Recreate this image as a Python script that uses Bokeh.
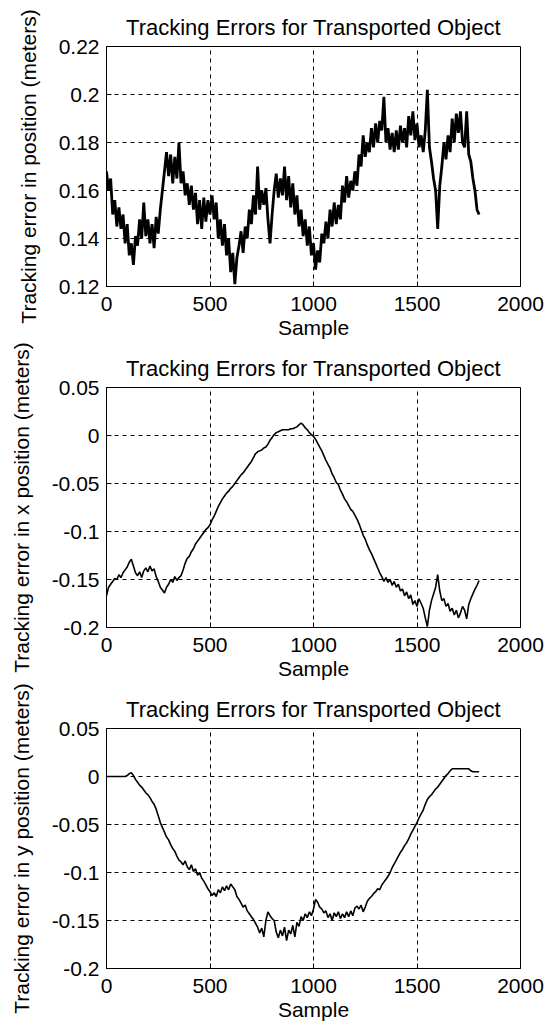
from bokeh.plotting import figure
from bokeh.layouts import column
from bokeh.models import Range1d, FixedTicker
from bokeh.embed import file_html
from bokeh.resources import INLINE

step = 10

err_pos = [
    0.168, 0.160, 0.165, 0.150, 0.156, 0.145, 0.153, 0.144, 0.150, 0.138,
    0.146, 0.133, 0.138, 0.129, 0.141, 0.137, 0.148, 0.140, 0.155, 0.141,
    0.148, 0.138, 0.146, 0.136, 0.149, 0.142, 0.152, 0.160, 0.168, 0.176,
    0.166, 0.175, 0.163, 0.174, 0.165, 0.180, 0.163, 0.168, 0.158, 0.163,
    0.154, 0.162, 0.152, 0.159, 0.146, 0.156, 0.144, 0.157, 0.147, 0.156,
    0.150, 0.158, 0.148, 0.155, 0.140, 0.148, 0.137, 0.146, 0.133, 0.140,
    0.126, 0.134, 0.121, 0.132, 0.137, 0.143, 0.134, 0.145, 0.140, 0.152,
    0.146, 0.158, 0.150, 0.170, 0.152, 0.160, 0.154, 0.161, 0.148, 0.138,
    0.150, 0.160, 0.167, 0.157, 0.165, 0.158, 0.170, 0.156, 0.166, 0.153,
    0.163, 0.150, 0.158, 0.145, 0.152, 0.141, 0.148, 0.137, 0.145, 0.133,
    0.138, 0.127, 0.135, 0.130, 0.142, 0.138, 0.147, 0.140, 0.152, 0.145,
    0.155, 0.146, 0.154, 0.148, 0.162, 0.155, 0.166, 0.157, 0.164, 0.160,
    0.168, 0.162, 0.175, 0.170, 0.183, 0.174, 0.180, 0.176, 0.186, 0.178,
    0.188, 0.180, 0.189, 0.185, 0.199, 0.180, 0.186, 0.177, 0.184, 0.176,
    0.185, 0.177, 0.187, 0.180, 0.186, 0.178, 0.191, 0.183, 0.193, 0.181,
    0.188, 0.178, 0.183, 0.176, 0.185, 0.202, 0.178, 0.172, 0.165, 0.160,
    0.144, 0.162, 0.170, 0.180, 0.173, 0.183, 0.176, 0.190, 0.180, 0.192,
    0.184, 0.193, 0.180, 0.178, 0.193, 0.175, 0.172, 0.165, 0.160, 0.152,
    0.150,
]

err_x = [
    -0.167, -0.158, -0.155, -0.152, -0.149, -0.150, -0.145, -0.148, -0.143, -0.140,
    -0.137, -0.132, -0.129, -0.136, -0.143, -0.146, -0.142, -0.148, -0.141, -0.138,
    -0.142, -0.136, -0.141, -0.139, -0.147, -0.152, -0.158, -0.161, -0.164, -0.158,
    -0.155, -0.150, -0.153, -0.147, -0.151, -0.148, -0.146, -0.140, -0.133, -0.128,
    -0.126, -0.121, -0.118, -0.113, -0.110, -0.107, -0.104, -0.101, -0.098, -0.096,
    -0.093, -0.088, -0.084, -0.079, -0.074, -0.070, -0.066, -0.063, -0.060, -0.058,
    -0.055, -0.053, -0.050, -0.047, -0.044, -0.041, -0.039, -0.036, -0.033, -0.030,
    -0.027, -0.023, -0.019, -0.017, -0.016, -0.015, -0.013, -0.012, -0.009, -0.005,
    -0.002, 0.001, 0.003, 0.004, 0.005, 0.006, 0.006, 0.006, 0.006, 0.007,
    0.007, 0.008, 0.009, 0.011, 0.013, 0.011, 0.008, 0.006, 0.003, 0.001,
    -0.001, -0.004, -0.008, -0.012, -0.016, -0.021, -0.026, -0.030, -0.034, -0.040,
    -0.044, -0.049, -0.051, -0.057, -0.061, -0.066, -0.069, -0.073, -0.077, -0.079,
    -0.083, -0.087, -0.092, -0.098, -0.104, -0.108, -0.114, -0.119, -0.123, -0.128,
    -0.133, -0.138, -0.143, -0.147, -0.152, -0.148, -0.153, -0.150, -0.156, -0.152,
    -0.158, -0.155, -0.162, -0.160, -0.167, -0.163, -0.170, -0.166, -0.176, -0.172,
    -0.178, -0.170, -0.175, -0.180, -0.190, -0.199, -0.182, -0.172, -0.165, -0.158,
    -0.145, -0.162, -0.172, -0.170, -0.178, -0.175, -0.183, -0.180, -0.187, -0.182,
    -0.190, -0.185, -0.178, -0.182, -0.191, -0.176, -0.170, -0.165, -0.160, -0.156,
    -0.151,
]

err_y = [
    0.000, 0.000, 0.000, 0.000, 0.000, 0.000, 0.000, 0.000, 0.000, 0.000,
    0.001, 0.003, 0.004, 0.001, -0.003, -0.006, -0.009, -0.011, -0.014, -0.017,
    -0.019, -0.022, -0.026, -0.029, -0.034, -0.041, -0.048, -0.053, -0.058, -0.063,
    -0.066, -0.071, -0.075, -0.078, -0.083, -0.087, -0.089, -0.092, -0.088, -0.094,
    -0.097, -0.092, -0.099, -0.096, -0.103, -0.100, -0.106, -0.109, -0.113, -0.117,
    -0.120, -0.124, -0.121, -0.125, -0.118, -0.121, -0.115, -0.119, -0.114, -0.118,
    -0.112, -0.115, -0.118, -0.125, -0.128, -0.132, -0.136, -0.134, -0.140, -0.143,
    -0.146, -0.149, -0.153, -0.157, -0.163, -0.158, -0.167, -0.150, -0.141, -0.145,
    -0.148, -0.150, -0.162, -0.168, -0.160, -0.166, -0.157, -0.171, -0.160, -0.164,
    -0.155, -0.167, -0.152, -0.156, -0.146, -0.150, -0.143, -0.147, -0.141, -0.145,
    -0.138, -0.128, -0.131, -0.136, -0.138, -0.142, -0.140, -0.147, -0.143, -0.150,
    -0.142, -0.146, -0.141, -0.148, -0.143, -0.147, -0.141, -0.146, -0.140, -0.145,
    -0.137, -0.135, -0.138, -0.134, -0.141, -0.136, -0.130, -0.127, -0.125, -0.122,
    -0.120, -0.117, -0.118, -0.113, -0.110, -0.107, -0.104, -0.100, -0.095, -0.091,
    -0.087, -0.083, -0.079, -0.076, -0.072, -0.069, -0.065, -0.060, -0.056, -0.052,
    -0.048, -0.043, -0.039, -0.035, -0.029, -0.024, -0.021, -0.019, -0.016, -0.013,
    -0.011, -0.008, -0.005, -0.002, 0.001, 0.003, 0.006, 0.008, 0.008, 0.008,
    0.008, 0.008, 0.008, 0.008, 0.008, 0.008, 0.006, 0.005, 0.005, 0.005,
    0.005,
]

x_ticks = [0, 500, 1000, 1500, 2000]
x_tick_labels = ["0", "500", "1000", "1500", "2000"]
pos_ticks = [0.12, 0.14, 0.16, 0.18, 0.20, 0.22]
pos_tick_labels = ["0.12", "0.14", "0.16", "0.18", "0.2", "0.22"]
xy_ticks = [-0.2, -0.15, -0.1, -0.05, 0.0, 0.05]
xy_tick_labels = ["-0.2", "-0.15", "-0.1", "-0.05", "0", "0.05"]

title_text = "Tracking Errors for Transported Object"
x_label = "Sample"
y_labels = [
    "Tracking error in position (meters)",
    "Tracking error in x position (meters)",
    "Tracking error in y position (meters)",
]

FONT = "Liberation Sans"
FS = "21px"


def make_plot(values, ylab, yrange, yticks, ylabels, lw):
    p = figure(width=549, height=341, output_backend="svg", toolbar_location=None,
               x_range=Range1d(0, 2000), y_range=Range1d(*yrange),
               min_border_left=106, min_border_right=29,
               min_border_top=46, min_border_bottom=54,
               background_fill_color="white", border_fill_color="white")
    xs = [i * step for i in range(len(values))]
    p.line(xs, values, line_color="black", line_width=lw)

    p.title.text = title_text
    p.title.align = "center"
    p.title.text_font = FONT
    p.title.text_font_size = "22px"
    p.title.text_font_style = "normal"
    p.title.text_color = "black"
    p.title.standoff = 13

    p.outline_line_color = "black"
    p.outline_line_width = 1

    for ax in (p.xaxis[0], p.yaxis[0]):
        ax.major_label_text_font = FONT
        ax.major_label_text_font_size = FS
        ax.major_label_text_color = "black"
        ax.axis_label_text_font = FONT
        ax.axis_label_text_font_size = FS
        ax.axis_label_text_font_style = "normal"
        ax.axis_label_text_color = "black"
        ax.axis_line_color = "black"
        ax.major_tick_in = 5
        ax.major_tick_out = 0
        ax.minor_tick_line_color = None
        ax.major_tick_line_color = "black"

    p.xaxis[0].ticker = FixedTicker(ticks=x_ticks)
    p.xaxis[0].major_label_overrides = dict(zip(x_ticks, x_tick_labels))
    p.xaxis[0].axis_label = x_label
    p.xaxis[0].major_label_standoff = 10
    p.xaxis[0].axis_label_standoff = 2

    p.yaxis[0].ticker = FixedTicker(ticks=yticks)
    p.yaxis[0].major_label_overrides = dict(zip(yticks, ylabels))
    p.yaxis[0].axis_label = ylab
    p.yaxis[0].major_label_standoff = 7
    p.yaxis[0].axis_label_standoff = 16

    for g in (p.xgrid[0], p.ygrid[0]):
        g.grid_line_color = "black"
        g.grid_line_dash = "4 4"
        g.grid_line_width = 1
        g.grid_line_alpha = 1.0
    p.xgrid[0].ticker = FixedTicker(ticks=x_ticks)
    p.ygrid[0].ticker = FixedTicker(ticks=yticks)
    return p


p1 = make_plot(err_pos, y_labels[0], (0.12, 0.22), pos_ticks, pos_tick_labels, 2.8)
p2 = make_plot(err_x, y_labels[1], (-0.2, 0.05), xy_ticks, xy_tick_labels, 1.6)
p3 = make_plot(err_y, y_labels[2], (-0.2, 0.05), xy_ticks, xy_tick_labels, 1.6)

layout = column(p1, p2, p3, spacing=0)
open("out.html", "w").write(file_html(layout, INLINE))
